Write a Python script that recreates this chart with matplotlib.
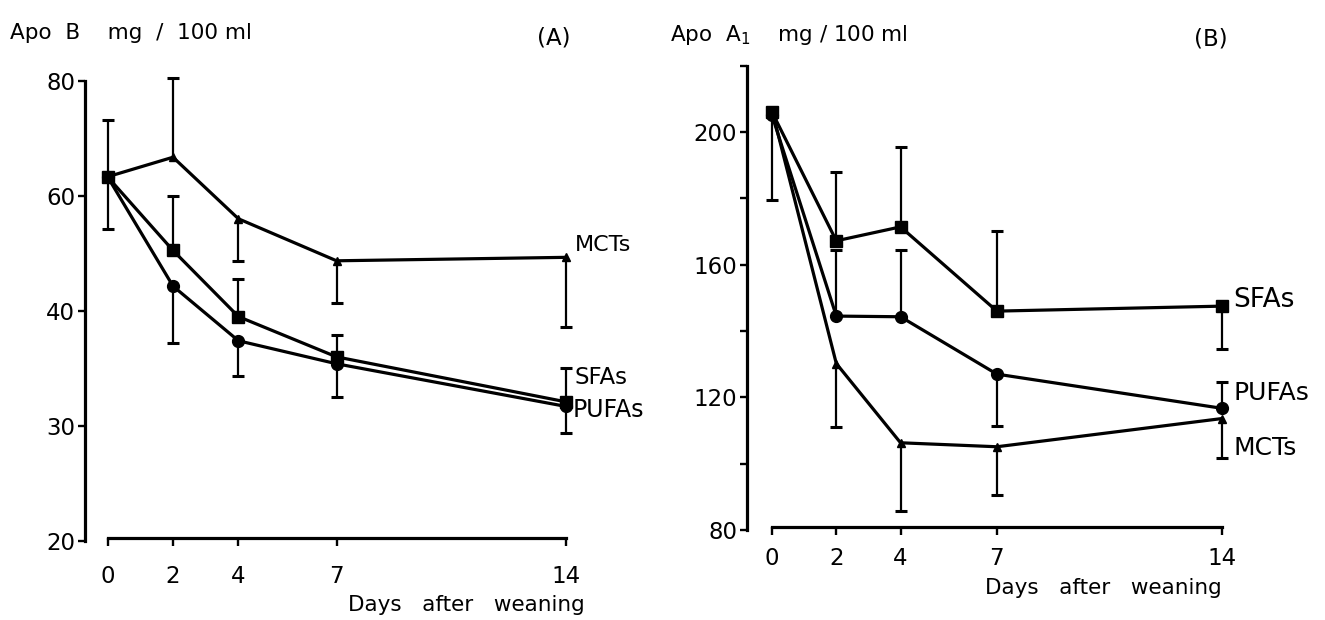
"""Apo B and Apo A1 after weaning, two panels (A) and (B)."""

import numpy as np
import matplotlib
matplotlib.use('Agg')
import matplotlib.pyplot as plt

nan = np.nan

days = [0, 2, 4, 7, 14]
day_labels = ['0', '2', '4', '7', '14']

# panel A: Apo B (mg / 100 ml)
apob_mct = [63.3, 66.7, 56.0, 48.7, 49.3]
apob_mct_hi = [73.1, 80.5, nan, nan, nan]
apob_mct_lo = [54.3, nan, 48.7, 41.4, 38.6]
apob_sfa = [63.3, 50.5, 39.5, 36.0, 32.1]
apob_sfa_hi = [nan, 60.0, 45.6, 37.9, 35.0]
apob_pufa = [63.3, 44.3, 37.4, 35.4, 31.7]
apob_pufa_lo = [nan, 37.2, 34.3, 32.5, 29.4]
apob_ticks = [20, 30, 40, 60, 80]

# panel B: Apo A1 (mg / 100 ml)
apoa_sfa = [206.0, 167.2, 171.4, 146.0, 147.5]
apoa_sfa_hi = [nan, 187.8, 195.5, 170.2, nan]
apoa_sfa_lo = [179.6, nan, nan, nan, 134.7]
apoa_pufa = [205.0, 144.5, 144.3, 127.0, 116.7]
apoa_pufa_hi = [nan, 164.4, 164.4, nan, 124.7]
apoa_pufa_lo = [nan, nan, nan, 111.3, nan]
apoa_mct = [206.5, 130.2, 106.3, 105.1, 113.6]
apoa_mct_lo = [nan, 111.1, 85.8, 90.5, 101.6]
apoa_major = [80, 120, 160, 200]
apoa_minor = [100, 140, 180, 220]

W, H = 1325, 620
plt.rcParams['font.family'] = ['DejaVu Sans']


def fx(x):
    return x / W


def fy(y):
    return 1 - y / H


# the Apo B axis has evenly spaced ticks 20, 30, 40, 60, 80
_knots_v = [10, 20, 30, 40, 60, 80, 100]
_knots_u = [-1, 0, 1, 2, 3, 4, 5]


def fwd_a(v):
    return np.interp(np.asarray(v, float), _knots_v, _knots_u)


def inv_a(u):
    return np.interp(np.asarray(u, float), _knots_u, _knots_v)


def draw_series(ax, y, marker, ms, lo=None, hi=None):
    ax.plot(days, y, color='black', lw=2.3, marker=marker, ms=ms,
            clip_on=False, zorder=3)
    for ends in (lo, hi):
        if ends is None:
            continue
        for d, v, e in zip(days, y, ends):
            if np.isnan(e):
                continue
            ax.vlines(d, v, e, color='black', lw=1.6, clip_on=False, zorder=2)
            ax.plot([d], [e], marker='_', ms=8, mew=2.2, color='black',
                    clip_on=False, zorder=2)


def style_axes(ax, x_spine_at, xpad):
    for side in ('top', 'right'):
        ax.spines[side].set_visible(False)
    ax.spines['left'].set_linewidth(2.3)
    ax.spines['bottom'].set_linewidth(2.3)
    ax.spines['bottom'].set_position(('data', x_spine_at))
    ax.spines['bottom'].set_bounds(0, 14)
    ax.set_xticks(days)
    ax.set_xticklabels(day_labels)
    ax.tick_params(axis='both', which='both', direction='out', width=1.7,
                   labelsize=16.5)
    ax.tick_params(axis='x', length=6, pad=xpad)
    ax.tick_params(axis='y', which='both', length=5, pad=2)
    ax.patch.set_visible(False)


fig = plt.figure(figsize=(W / 100, H / 100), dpi=100)

# ---- panel A
ax_a = fig.add_axes([fx(85), fy(541), fx(631) - fx(85), fy(80.7) - fy(541)])
ax_a.set_yscale('function', functions=(fwd_a, inv_a))
ax_a.set_xlim(-0.69, 16)
ax_a.set_ylim(20, 80)
ax_a.set_yticks(apob_ticks)
ax_a.set_yticklabels([str(t) for t in apob_ticks])
ax_a.yaxis.set_minor_locator(matplotlib.ticker.NullLocator())
style_axes(ax_a, 20.3, 13.5)

draw_series(ax_a, apob_mct, '^', 6, lo=apob_mct_lo, hi=apob_mct_hi)
draw_series(ax_a, apob_sfa, 's', 8, hi=apob_sfa_hi)
draw_series(ax_a, apob_pufa, 'o', 8.5, lo=apob_pufa_lo)

# ---- panel B
ax_b = fig.add_axes([fx(747), fy(530), fx(1286) - fx(747), fy(65.7) - fy(530)])
ax_b.set_xlim(-0.78, 16)
ax_b.set_ylim(80, 220)
ax_b.set_yticks(apoa_major)
ax_b.set_yticklabels([str(t) for t in apoa_major])
ax_b.set_yticks(apoa_minor, minor=True)
style_axes(ax_b, 80.8, 8.5)

draw_series(ax_b, apoa_sfa, 's', 8, lo=apoa_sfa_lo, hi=apoa_sfa_hi)
draw_series(ax_b, apoa_pufa, 'o', 8.5, lo=apoa_pufa_lo, hi=apoa_pufa_hi)
draw_series(ax_b, apoa_mct, '^', 6, lo=apoa_mct_lo)

# ---- texts
fig.text(fx(10), fy(33), 'Apo  B    mg  /  100 ml', fontsize=15.5, va='center', ha='left')
fig.text(fx(554), fy(38), '(A)', fontsize=16.5, va='center', ha='center')
fig.text(fx(670), fy(35), 'Apo  A$_1$    mg / 100 ml', fontsize=15.5, va='center', ha='left')
fig.text(fx(1211), fy(39), '(B)', fontsize=16.5, va='center', ha='center')

fig.text(fx(466), fy(605), 'Days   after   weaning', fontsize=15.5, va='center', ha='center')
fig.text(fx(1103), fy(588), 'Days   after   weaning', fontsize=15.5, va='center', ha='center')

fig.text(fx(575), fy(245), 'MCTs', fontsize=16, va='center', ha='left')
fig.text(fx(574), fy(378), 'SFAs', fontsize=16.5, va='center', ha='left')
fig.text(fx(573), fy(410), 'PUFAs', fontsize=17, va='center', ha='left')

fig.text(fx(1233), fy(300), 'SFAs', fontsize=19, va='center', ha='left')
fig.text(fx(1233), fy(393), 'PUFAs', fontsize=18, va='center', ha='left')
fig.text(fx(1233), fy(448), 'MCTs', fontsize=18, va='center', ha='left')

fig.savefig('out.png', dpi=100)
